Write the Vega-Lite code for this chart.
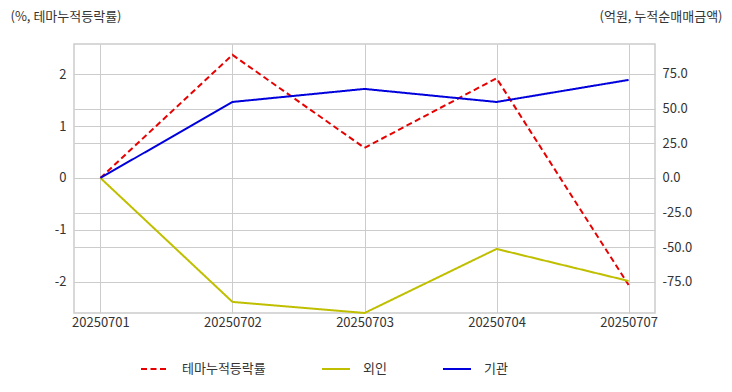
{
  "$schema": "https://vega.github.io/schema/vega-lite/v6.json",
  "width": 581,
  "height": 269,
  "autosize": {"type": "none"},
  "padding": {"left": 74, "top": 44, "right": 77, "bottom": 79},
  "background": "white",
  "config": {
    "font": "Noto Sans CJK KR",
    "view": {"stroke": "#cccccc", "strokeWidth": 1.5},
    "axis": {"labelFont": "Noto Sans CJK KR", "titleFont": "Noto Sans CJK KR", "labelColor": "#333333", "titleColor": "#333333", "labelFontSize": 13, "titleFontSize": 13, "titleFontWeight": "normal", "gridColor": "#cccccc", "gridWidth": 1, "ticks": false, "domain": false},
    "legend": {"labelFont": "Noto Sans CJK KR", "labelFontSize": 13, "labelColor": "#333333"}
  },
  "data": {
    "values": [
      {"date": "20250701", "series": "테마누적등락률", "value": 0},
      {"date": "20250702", "series": "테마누적등락률", "value": 2.37},
      {"date": "20250703", "series": "테마누적등락률", "value": 0.58},
      {"date": "20250704", "series": "테마누적등락률", "value": 1.92},
      {"date": "20250707", "series": "테마누적등락률", "value": -2.06},
      {"date": "20250701", "series": "외인", "value": 0},
      {"date": "20250702", "series": "외인", "value": -89.4},
      {"date": "20250703", "series": "외인", "value": -97.4},
      {"date": "20250704", "series": "외인", "value": -51.2},
      {"date": "20250707", "series": "외인", "value": -74.3},
      {"date": "20250701", "series": "기관", "value": 0},
      {"date": "20250702", "series": "기관", "value": 54.8},
      {"date": "20250703", "series": "기관", "value": 64.2},
      {"date": "20250704", "series": "기관", "value": 54.8},
      {"date": "20250707", "series": "기관", "value": 70.7}
    ]
  },
  "encoding": {
    "x": {"field": "date", "type": "ordinal", "scale": {"type": "point", "padding": 0.2}, "axis": {"title": null, "labelAngle": 0, "labelPadding": 3, "grid": true}},
    "color": {"field": "series", "type": "nominal", "scale": {"domain": ["테마누적등락률", "외인", "기관"], "range": ["#e60000", "#bfbf00", "#0000dd"]}, "legend": {"title": null, "orient": "none", "legendX": 66, "legendY": 310, "direction": "horizontal", "symbolType": "stroke", "symbolSize": 784, "symbolStrokeWidth": 2, "labelOffset": 12, "columnPadding": 52}},
    "strokeDash": {"field": "series", "type": "nominal", "scale": {"domain": ["테마누적등락률", "외인", "기관"], "range": [[6, 3.5], [1, 0], [1, 0]]}, "legend": null}
  },
  "layer": [
    {
      "transform": [{"filter": "datum.series === '테마누적등락률'"}],
      "mark": {"type": "line", "strokeWidth": 2},
      "encoding": {
        "y": {"field": "value", "type": "quantitative", "scale": {"domain": [-2.6, 2.58], "nice": false, "zero": false}, "axis": {"title": "(%, 테마누적등락률)", "titleAngle": 0, "titleAlign": "left", "titleBaseline": "middle", "titleX": -64, "titleY": -28, "values": [-2, -1, 0, 1, 2], "labelExpr": "replace(format(datum.value, 'd'), '\u2212', '-')", "labelPadding": 8, "grid": true}}
      }
    },
    {
      "transform": [{"filter": "datum.series !== '테마누적등락률'"}],
      "mark": {"type": "line", "strokeWidth": 2},
      "encoding": {
        "y": {"field": "value", "type": "quantitative", "scale": {"domain": [-97.4, 96.6], "nice": false, "zero": false}, "axis": {"orient": "right", "title": "(억원, 누적순매매금액)", "titleAngle": 0, "titleAlign": "right", "titleBaseline": "middle", "titleX": 67, "titleY": -28, "values": [-75, -50, -25, 0, 25, 50, 75], "labelExpr": "replace(format(datum.value, '.1f'), '\u2212', '-')", "labelPadding": 7, "grid": true}}
      }
    }
  ],
  "resolve": {"scale": {"y": "independent"}}
}
